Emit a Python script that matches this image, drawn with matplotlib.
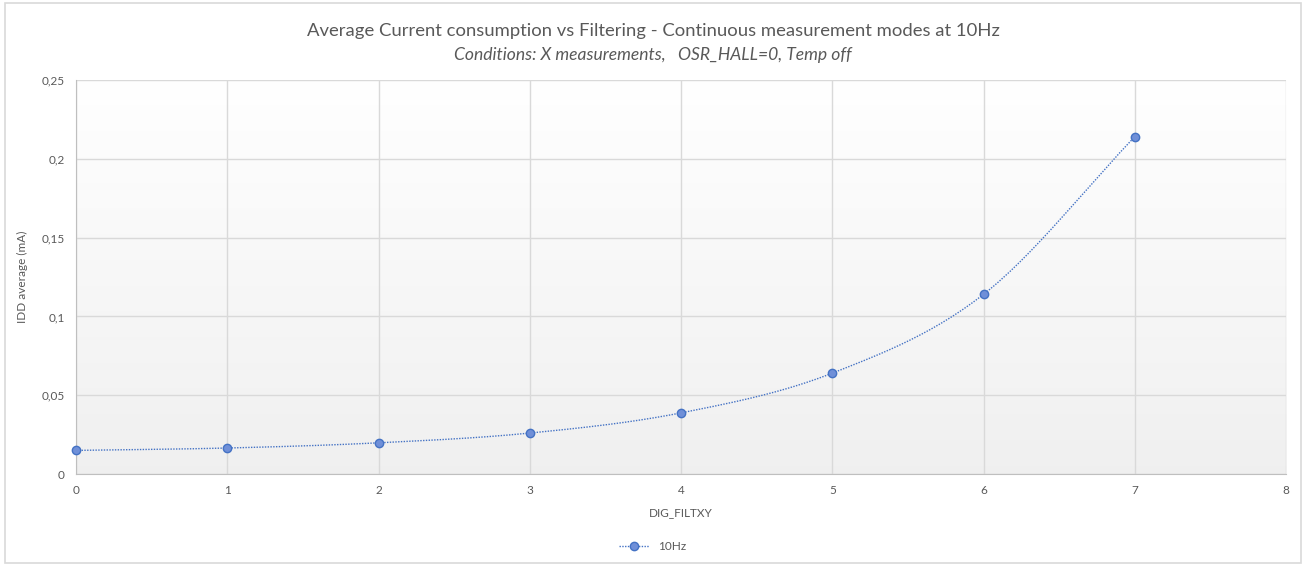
import numpy as np
import matplotlib.pyplot as plt
from matplotlib.patches import Rectangle
from matplotlib.ticker import FuncFormatter

plt.rcParams['font.family'] = ['Lato', 'DejaVu Sans']

dig_filtxy = [0, 1, 2, 3, 4, 5, 6, 7]
idd_10hz = [0.015, 0.0165, 0.0198, 0.026, 0.0388, 0.064, 0.114, 0.214]
series_label = '10Hz'
title = 'Average Current consumption vs Filtering - Continuous measurement modes at 10Hz'
subtitle = 'Conditions: X measurements,   OSR_HALL=0, Temp off'
x_label = 'DIG_FILTXY'
y_label = 'IDD average (mA)'


def smooth(x, y, n=30):
    # catmull-rom, roughly what excel does for "smoothed line"
    x = np.asarray(x, float)
    y = np.asarray(y, float)
    px = np.concatenate([[2 * x[0] - x[1]], x, [2 * x[-1] - x[-2]]])
    py = np.concatenate([[2 * y[0] - y[1]], y, [2 * y[-1] - y[-2]]])
    xs, ys = [], []
    t = np.linspace(0, 1, n)
    for i in range(1, len(px) - 2):
        for p, out in ((px, xs), (py, ys)):
            p0, p1, p2, p3 = p[i - 1], p[i], p[i + 1], p[i + 2]
            out.extend(0.5 * (2 * p1 + (-p0 + p2) * t
                              + (2 * p0 - 5 * p1 + 4 * p2 - p3) * t ** 2
                              + (-p0 + 3 * p1 - 3 * p2 + p3) * t ** 3))
    return np.array(xs), np.array(ys)


fig = plt.figure(figsize=(13.06, 5.65), dpi=100)
fig.patches.append(Rectangle((0.004, 0.004), 0.992, 0.99, transform=fig.transFigure,
                             fill=False, edgecolor='#d9d9d9', linewidth=1.2))
ax = fig.add_axes([0.0582, 0.161, 0.9265, 0.6974])

# gradient background: white at top -> light gray at bottom
shade = np.linspace(1.0, 0.94, 256)
grad = np.repeat(shade[:, None, None], 3, axis=2)
ax.imshow(grad, extent=(0, 8, 0, 0.25), aspect='auto', origin='upper', zorder=0)

ax.set_xlim(0, 8)
ax.set_ylim(0, 0.25)
ax.set_xticks(range(0, 9))
ax.set_yticks(np.arange(0, 0.2501, 0.05))
ax.grid(True, color='#d9d9d9', linewidth=1.0, zorder=1)
ax.set_axisbelow(True)
for s in ['top', 'right']:
    ax.spines[s].set_visible(False)
for s in ['left', 'bottom']:
    ax.spines[s].set_color('#bfbfbf')
ax.tick_params(length=0, colors='#595959', labelsize=8.5, pad=8)
ax.yaxis.set_major_formatter(FuncFormatter(lambda v, p: ('%g' % round(v, 3)).replace('.', ',')))

sx, sy = smooth(dig_filtxy, idd_10hz)
ax.plot(sx, sy, linestyle=(0, (1, 1)), color='#4472c4', linewidth=1.0, zorder=3)
ax.plot(dig_filtxy, idd_10hz, 'o', markersize=6, markerfacecolor='#6f8fd8',
        markeredgecolor='#4472c4', markeredgewidth=1.0, zorder=4, clip_on=False)
h = ax.plot([], [], linestyle=(0, (1, 1)), marker='o', color='#4472c4', markersize=6,
            markerfacecolor='#6f8fd8', linewidth=1.0, label=series_label)[0]

ax.set_xlabel(x_label, color='#595959', fontsize=8.5, labelpad=8)
ax.set_ylabel(y_label, color='#595959', fontsize=8.5, labelpad=10)

fig.text(0.5, 0.945, title, ha='center', va='center', fontsize=13.3, color='#595959')
fig.text(0.5, 0.903, subtitle, ha='center', va='center', fontsize=12.6, color='#595959',
         style='italic')

fig.legend(handles=[h], loc='center', bbox_to_anchor=(0.5, 0.032), frameon=False,
           fontsize=8.5, labelcolor='#595959', handlelength=2.5)

fig.savefig('out.png', dpi=100)
